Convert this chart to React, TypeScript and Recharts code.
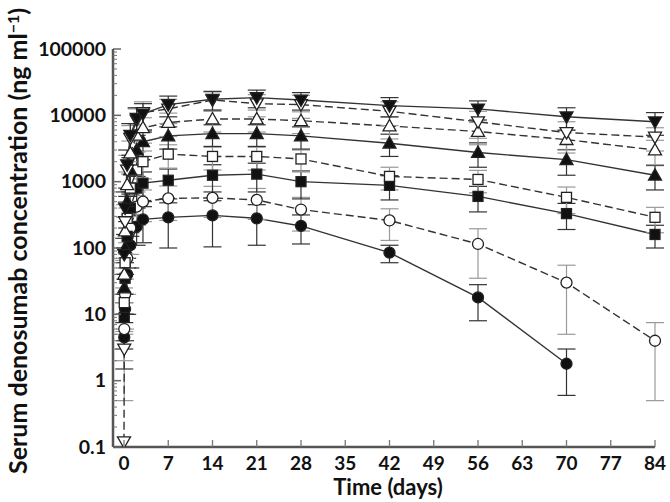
import React from "react";
import { ErrorBar, Line, LineChart, XAxis, YAxis } from "recharts";

const times = [0, 0.04, 0.17, 0.5, 1, 2, 3, 7, 14, 21, 28, 42, 56, 70, 84];
const xTicks = [0, 7, 14, 21, 28, 35, 42, 49, 56, 63, 70, 77, 84];
const yMajorTicks = [0.1, 1, 10, 100, 1000, 10000, 100000];

// mean concentrations (ng/ml) per dose group
const filledCircle = [null, 4.5, 12, 40, 110, 210, 270, 290, 310, 280, 215, 85, 18, 1.8, null];
const filledCircleSd = [null, 3, 8, 30, 60, 100, 150, 190, 206, 170, 100, 25, 10, 1.2, null];
const openCircle = [null, 6, 20, 70, 200, 420, 500, 560, 570, 530, 380, 260, 115, 30, 4];
const openCircleSd = [null, 4, 14, 50, 120, 200, 250, 300, 280, 260, 200, 130, 80, 25, 3.5];
const filledSquare = [null, 9, 35, 150, 400, 800, 950, 1050, 1250, 1300, 1000, 880, 600, 330, 160];
const filledSquareSd = [null, 6, 25, 100, 250, 400, 450, 500, 550, 600, 450, 350, 250, 140, 60];
const openSquare = [null, 15, 60, 280, 800, 1500, 2000, 2600, 2400, 2400, 2200, 1200, 1080, 580, 290];
const openSquareSd = [null, 10, 40, 200, 500, 800, 900, 1000, 900, 900, 800, 450, 400, 250, 120];
const filledUp = [null, 25, 100, 500, 1500, 3000, 4000, 4900, 5300, 5300, 4900, 3800, 2750, 2150, 1250];
const filledUpSd = [null, 15, 60, 300, 800, 1300, 1600, 1800, 1900, 1900, 1800, 1400, 1100, 900, 500];
const openUp = [null, 40, 180, 900, 2700, 5000, 6500, 7800, 8800, 8800, 8300, 6900, 5700, 4300, 3000];
const openUpSd = [null, 25, 110, 500, 1400, 2200, 2700, 3000, 3200, 3200, 3000, 2500, 2100, 1600, 1200];
const openDown = [0.12, 3, 250, 1500, 4500, 8500, 11000, 12500, 17000, 15000, 14500, 11500, 8000, 5500, 4700];
const openDownSd = [null, 2.5, 200, 1000, 2500, 4000, 5000, 5000, 5500, 5500, 5500, 4500, 3500, 2500, 1800];
const filledDown = [null, 80, 400, 1800, 5000, 9000, 10500, 14500, 17500, 18500, 17000, 14000, 12500, 9500, 8000];
const filledDownSd = [null, 60, 300, 1200, 2500, 4000, 4500, 5000, 5500, 5500, 5000, 4500, 4000, 3500, 3000];

type Shape = "circle" | "square" | "up" | "down";

const series: { key: string; values: (number | null)[]; sd: (number | null)[]; shape: Shape; filled: boolean }[] = [
  { key: "fc", values: filledCircle, sd: filledCircleSd, shape: "circle", filled: true },
  { key: "oc", values: openCircle, sd: openCircleSd, shape: "circle", filled: false },
  { key: "fs", values: filledSquare, sd: filledSquareSd, shape: "square", filled: true },
  { key: "os", values: openSquare, sd: openSquareSd, shape: "square", filled: false },
  { key: "fu", values: filledUp, sd: filledUpSd, shape: "up", filled: true },
  { key: "ou", values: openUp, sd: openUpSd, shape: "up", filled: false },
  { key: "od", values: openDown, sd: openDownSd, shape: "down", filled: false },
  { key: "fd", values: filledDown, sd: filledDownSd, shape: "down", filled: true }
];

const W = 670;
const H = 502;
const PLOT_LEFT = 113;
const PLOT_TOP = 49;
const PLOT_BOTTOM = 447;
const FONT = "Lato, 'Open Sans', sans-serif";

const rows = times.map((t, i) => {
  const row: Record<string, unknown> = { t };
  series.forEach((s) => {
    const v = s.values[i];
    const sd = s.sd[i];
    row[s.key] = v;
    // lower whisker is clipped so it stays above the log axis floor
    if (v != null && sd != null) row[s.key + "Err"] = [Math.min(sd, v - 0.11), sd];
  });
  return row;
});

const minorTicks: number[] = [];
yMajorTicks.slice(0, -1).forEach((d) => {
  for (let k = 2; k <= 9; k++) minorTicks.push(d * k);
});
const yTicks = [...yMajorTicks, ...minorTicks].sort((a, b) => a - b);

function makeDot(shape: Shape, filled: boolean) {
  return (props: any) => {
    const { cx, cy, index } = props;
    if (cx == null || cy == null || Number.isNaN(cy)) return <g key={index} />;
    const fill = filled ? "#111" : "#fff";
    const common = { fill, stroke: "#222", strokeWidth: 1.3 };
    if (shape === "circle") return <circle key={index} cx={cx} cy={cy} r={5.5} {...common} />;
    if (shape === "square") return <rect key={index} x={cx - 5} y={cy - 5} width={10} height={10} {...common} />;
    const s = 6.5;
    const pts =
      shape === "up"
        ? `${cx},${cy - s} ${cx + s},${cy + s * 0.75} ${cx - s},${cy + s * 0.75}`
        : `${cx},${cy + s} ${cx + s},${cy - s * 0.75} ${cx - s},${cy - s * 0.75}`;
    return <polygon key={index} points={pts} {...common} />;
  };
}

function YTick(props: any) {
  const { y, payload } = props;
  const major = yMajorTicks.includes(payload.value);
  if (!major) {
    return <line x1={PLOT_LEFT} x2={PLOT_LEFT + 4} y1={y} y2={y} stroke="#777" strokeWidth={1} />;
  }
  return (
    <g>
      <line x1={PLOT_LEFT} x2={PLOT_LEFT + 8} y1={y} y2={y} stroke="#666" strokeWidth={1.5} />
      <text x={PLOT_LEFT - 7} y={y} dy="0.35em" textAnchor="end" fontFamily={FONT} fontWeight={700} fontSize={19.5} fill="#111">
        {String(payload.value)}
      </text>
    </g>
  );
}

function XTick(props: any) {
  const { x, payload } = props;
  return (
    <g>
      <line x1={x} x2={x} y1={PLOT_BOTTOM} y2={PLOT_BOTTOM - 7} stroke="#777" strokeWidth={1.3} />
      <text x={x} y={PLOT_BOTTOM + 23} textAnchor="middle" fontFamily={FONT} fontWeight={700} fontSize={19} fill="#111">
        {payload.value}
      </text>
    </g>
  );
}

export default function App() {
  return (
    <div style={{ position: "absolute", left: 0, top: 0, width: W, height: H, background: "#fff" }}>
      <LineChart width={W} height={H} data={rows} margin={{ top: PLOT_TOP, right: 15, bottom: 0, left: 0 }}>
        <XAxis
          dataKey="t"
          type="number"
          domain={[-1.74, 84]}
          ticks={xTicks}
          interval={0}
          height={H - PLOT_BOTTOM}
          tick={XTick}
          tickLine={false}
          axisLine={{ stroke: "#555", strokeWidth: 2.5 }}
          label={() => (
            <text x={388} y={495} textAnchor="middle" fontFamily={FONT} fontWeight={700} fontSize={22} fill="#111">
              Time (days)
            </text>
          )}
        />
        <YAxis
          type="number"
          scale="log"
          domain={[0.1, 100000]}
          allowDataOverflow
          ticks={yTicks}
          interval={0}
          width={PLOT_LEFT}
          tick={YTick}
          tickLine={false}
          axisLine={{ stroke: "#555", strokeWidth: 2.5 }}
          label={() => (
            <text
              x={0}
              y={0}
              transform="translate(27 474) rotate(-90)"
              fontFamily={FONT}
              fontWeight={700}
              fontSize={25}
              fill="#111"
            >
              Serum denosumab concentration (ng ml
              <tspan dy={-8} fontSize={16}>−1</tspan>
              <tspan dy={8}>)</tspan>
            </text>
          )}
        />
        {series.map((s) => (
          <Line
            key={s.key}
            dataKey={s.key}
            type="linear"
            connectNulls
            stroke="#333"
            strokeWidth={1.4}
            strokeDasharray={s.filled ? undefined : "8 4"}
            dot={makeDot(s.shape, s.filled)}
            activeDot={false}
            isAnimationActive={false}
          >
            <ErrorBar
              dataKey={s.key + "Err"}
              direction="y"
              width={9}
              stroke={s.filled ? "#333" : "#999"}
              strokeWidth={1.2}
              isAnimationActive={false}
            />
          </Line>
        ))}
      </LineChart>
    </div>
  );
}
